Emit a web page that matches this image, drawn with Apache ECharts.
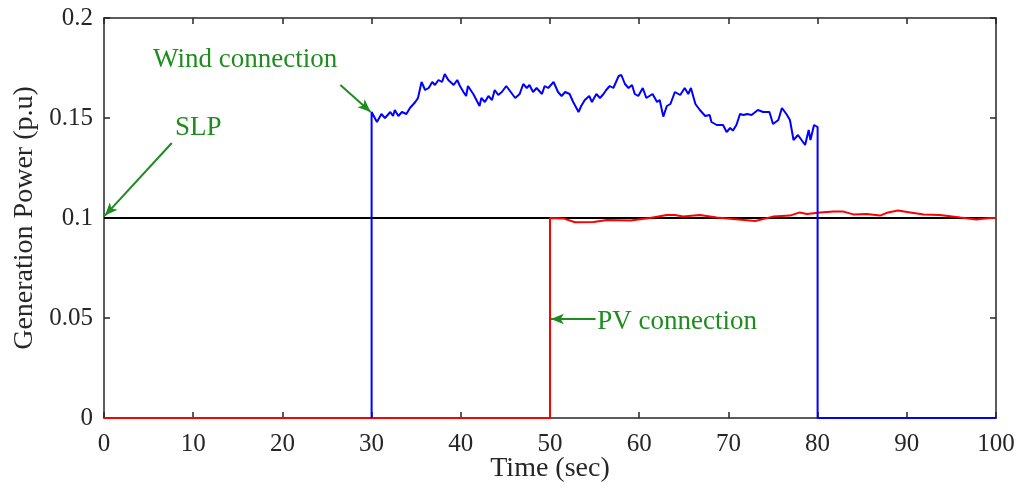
<!DOCTYPE html>
<html>
<head>
<meta charset="utf-8">
<script src="https://cdn.jsdelivr.net/npm/echarts@6/dist/echarts.min.js"></script>
<style>
html,body{margin:0;padding:0;background:#fff;}
#chart{width:1031px;height:491px;}
</style>
</head>
<body>
<div id="chart"></div>
<script>
const xTicks = [0,10,20,30,40,50,60,70,80,90,100];
const yTicks = [0,0.05,0.1,0.15,0.2];

const windTime = [30,30,30.6,31.1,31.5,32.1,32.4,32.6,33.0,33.4,33.9,34.3,34.9,35.2,35.6,36.0,36.4,36.8,37.1,37.5,37.9,38.2,38.6,39.2,39.6,39.9,40.3,40.6,40.8,41.4,42.1,42.3,42.7,43.1,43.5,43.8,44.2,44.6,45.1,45.6,46.1,46.6,47.0,47.4,47.7,48.1,48.5,49.1,49.4,49.8,50.4,50.9,51.3,51.7,52.2,52.6,53.2,53.5,53.9,54.4,54.7,55.2,55.6,56.0,56.3,56.7,57.1,57.7,58.0,58.4,58.8,59.2,59.5,59.9,60.4,60.8,61.5,62.0,62.3,62.7,63.1,63.5,64.0,64.6,65.1,65.5,65.8,66.3,66.8,67.4,67.9,68.1,68.7,69.4,69.8,70.2,70.5,70.9,71.3,71.7,72.1,72.6,73.3,73.9,74.6,75.0,75.6,76.0,76.5,76.9,77.3,77.8,78.2,78.6,79.0,79.2,79.6,80.0,80.0,100];
const windPower = [0,0.153,0.148,0.152,0.150,0.153,0.151,0.154,0.151,0.153,0.152,0.155,0.158,0.160,0.168,0.164,0.165,0.168,0.1665,0.169,0.168,0.172,0.169,0.1665,0.169,0.166,0.163,0.161,0.166,0.162,0.156,0.160,0.158,0.161,0.159,0.164,0.1615,0.163,0.166,0.163,0.160,0.162,0.167,0.165,0.1665,0.163,0.165,0.162,0.166,0.165,0.168,0.163,0.161,0.163,0.162,0.158,0.153,0.156,0.159,0.161,0.158,0.162,0.160,0.162,0.164,0.166,0.165,0.171,0.1715,0.167,0.165,0.1665,0.162,0.161,0.165,0.160,0.162,0.158,0.159,0.1507,0.156,0.157,0.163,0.1615,0.165,0.162,0.165,0.157,0.154,0.151,0.1515,0.148,0.1465,0.1465,0.143,0.145,0.1437,0.1465,0.152,0.1515,0.152,0.1515,0.154,0.153,0.153,0.147,0.149,0.155,0.152,0.149,0.139,0.1415,0.139,0.1365,0.144,0.139,0.1465,0.1455,0,0];

const pvTime = [0,50,50,51.5,52.8,54.9,56.4,59.0,61.2,63.1,64.0,64.9,66.8,68.7,70.5,73.0,75.0,76.9,78.0,78.8,80.3,81.8,82.9,84.0,85.5,87.0,87.9,89.0,90.4,91.9,93.7,96.0,97.8,99.3,100];
const pvPower = [0,0,0.1,0.0998,0.0979,0.098,0.099,0.0987,0.1,0.1015,0.1015,0.1007,0.1015,0.1003,0.0995,0.0985,0.1007,0.1012,0.1028,0.102,0.1027,0.1032,0.1032,0.1018,0.102,0.1012,0.1028,0.1037,0.1028,0.1018,0.1015,0.1002,0.0993,0.1,0.1];

const slpTime = [0,100];
const slpPower = [0.1,0.1];

const annotationTexts = ['Wind connection','SLP','PV connection'];
const annotationTextAt = [[5.5,0.179],[7.96,0.145],[55.3,0.048]];
const annotationArrowFrom = [[26.5,0.1665],[7.6,0.1375],[55.1,0.0495]];
const annotationArrowTo = [[29.9,0.153],[0.1,0.1012],[50.1,0.0495]];

const zip = (a,b) => a.map((v,i)=>[v,b[i]]);

const FONT = 'Liberation Serif';
const AXC = '#262626';
const GREEN = '#1e8c1e';

const chart = echarts.init(document.getElementById('chart'), null, {renderer:'canvas'});

const xAxisBase = {
  type:'value', min:0, max:100, interval:10,
  axisLine:{show:true, onZero:false, lineStyle:{color:AXC, width:1.5}},
  axisTick:{show:true, inside:true, length:6, lineStyle:{color:AXC, width:1.5}},
  splitLine:{show:false}
};
const yAxisBase = {
  type:'value', min:0, max:0.2, interval:0.05,
  axisLine:{show:true, onZero:false, lineStyle:{color:AXC, width:1.5}},
  axisTick:{show:true, inside:true, length:6, lineStyle:{color:AXC, width:1.5}},
  splitLine:{show:false}
};

chart.setOption({
  animation:false,
  backgroundColor:'#fff',
  grid:{left:104, right:35, top:18, bottom:73, containLabel:false, outerBoundsMode:'none'},
  xAxis:[
    Object.assign({}, xAxisBase, {
      position:'bottom',
      name:'Time (sec)', nameLocation:'middle', nameGap:37, nameMoveOverlap:false,
      nameTextStyle:{fontFamily:FONT, fontSize:28, color:AXC},
      axisLabel:{fontFamily:FONT, fontSize:25, color:AXC, margin:14,
        formatter:v=>String(v)}
    }),
    Object.assign({}, xAxisBase, {position:'top', axisLabel:{show:false}})
  ],
  yAxis:[
    Object.assign({}, yAxisBase, {
      position:'left',
      name:'Generation Power (p.u)', nameLocation:'middle', nameGap:63,
      nameTextStyle:{fontFamily:FONT, fontSize:28, color:AXC},
      axisLabel:{fontFamily:FONT, fontSize:25, color:AXC, margin:11,
        formatter:v=>String(+v.toFixed(2))}
    }),
    Object.assign({}, yAxisBase, {position:'right', axisLabel:{show:false}})
  ],
  series:[
    {type:'line', name:'SLP', data:zip(slpTime,slpPower), showSymbol:false, symbol:'none',
      lineStyle:{color:'#000', width:2}, z:2},
    {type:'line', name:'PV', data:zip(pvTime,pvPower), showSymbol:false, symbol:'none',
      lineStyle:{color:'#ff0000', width:2}, z:3},
    {type:'line', name:'Wind', data:zip(windTime,windPower), showSymbol:false, symbol:'none',
      lineStyle:{color:'#0000ff', width:2}, z:4},
    {type:'line', name:'annot', data:[], z:6,
      markLine:{
        silent:true, symbol:['none','arrow'], symbolSize:[8,13], precision:6,
        lineStyle:{color:GREEN, width:2, type:'solid'},
        label:{show:false},
        data: annotationArrowFrom.map((f,i)=>[{coord:f},{coord:annotationArrowTo[i]}])
      },
      markPoint:{
        silent:true, symbol:'circle', symbolSize:0,
        label:{show:true, position:'right', distance:0, fontFamily:FONT, fontSize:27, color:GREEN,
          formatter:p=>p.name},
        data: annotationTexts.map((t,i)=>({name:t, coord:annotationTextAt[i]}))
      }
    }
  ]
});
</script>
</body>
</html>
